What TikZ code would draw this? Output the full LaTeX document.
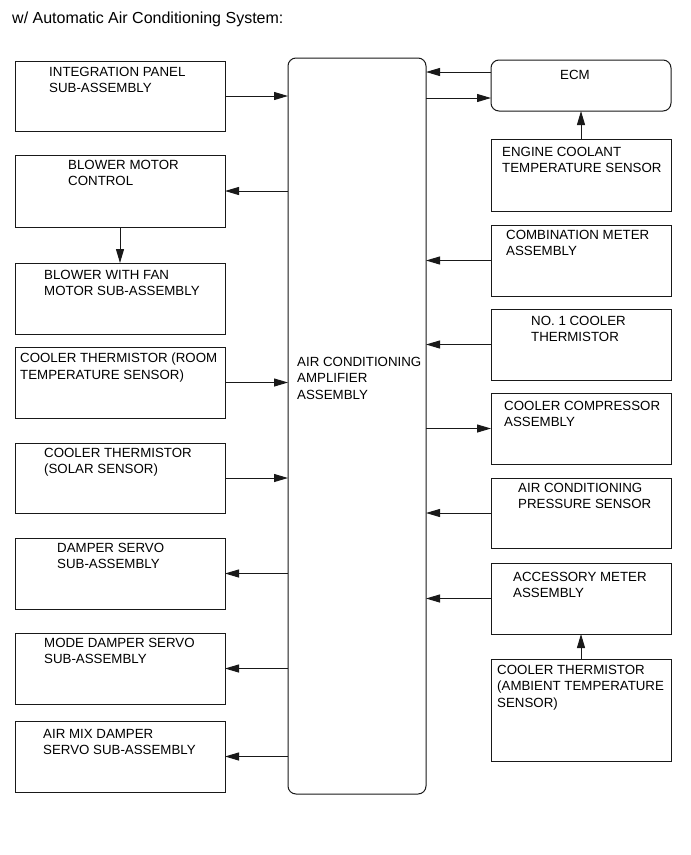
\documentclass[tikz,border=0pt]{standalone}
\usepackage{fontspec}
\setmainfont{Liberation Sans}
\usetikzlibrary{arrows.meta}
\newcommand\boxfont{\fontsize{13.3}{16.4}\selectfont}
\begin{document}
\begin{tikzpicture}[x=1pt, y=-1pt,
    box/.style={draw=black!90, line width=1pt, anchor=north west, inner sep=0, outer sep=0},
    lbox/.style={box, minimum width=210, minimum height=71},
    rbox/.style={box, minimum width=180, minimum height=71},
    txt/.style={anchor=north west, inner sep=0, align=left, font=\boxfont},
    arr/.style={draw=black!90, line width=1pt, -{Triangle[length=14pt,width=8pt]}}]
  \useasboundingbox[fill=white] (0,0) rectangle (691,855);
  \node[anchor=north west, inner sep=0, font=\fontsize{16}{18}\selectfont] (title) at (12,12) {w/ Automatic Air Conditioning System:};

  % amplifier
  \node[box, rounded corners=8pt, minimum width=138, minimum height=736] (amp) at (288,58) {};
  \node[txt] (amp-t) at ([shift={(9,299)}]amp.north west) {AIR CONDITIONING\\AMPLIFIER\\ASSEMBLY};

  % left column
  \node[lbox, minimum height=70] (panel) at (15,61) {};
  \node[txt] (panel-t) at ([shift={(34,6)}]panel.north west) {INTEGRATION PANEL\\SUB-ASSEMBLY};
  \node[lbox, minimum height=72] (bmc) at (15,155) {};
  \node[txt] (bmc-t) at ([shift={(53,5)}]bmc.north west) {BLOWER MOTOR\\CONTROL};
  \node[lbox] (blower) at (15,263) {};
  \node[txt] (blower-t) at ([shift={(29,7)}]blower.north west) {BLOWER WITH FAN\\MOTOR SUB-ASSEMBLY};
  \node[lbox] (room) at (15,347) {};
  \node[txt] (room-t) at ([shift={(5,6)}]room.north west) {COOLER THERMISTOR (ROOM\\TEMPERATURE SENSOR)};
  \node[lbox, minimum height=70] (solar) at (15,443) {};
  \node[txt] (solar-t) at ([shift={(29,5)}]solar.north west) {COOLER THERMISTOR\\(SOLAR SENSOR)};
  \node[lbox] (damper) at (15,538) {};
  \node[txt] (damper-t) at ([shift={(42,5)}]damper.north west) {DAMPER SERVO\\SUB-ASSEMBLY};
  \node[lbox] (mode) at (15,633) {};
  \node[txt] (mode-t) at ([shift={(29,5)}]mode.north west) {MODE DAMPER SERVO\\SUB-ASSEMBLY};
  \node[lbox] (airmix) at (15,721) {};
  \node[txt] (airmix-t) at ([shift={(28,8)}]airmix.north west) {AIR MIX DAMPER\\SERVO SUB-ASSEMBLY};

  % right column
  \node[box, rounded corners=8pt, minimum width=180, minimum height=51] (ecm) at (491,60) {};
  \node[txt, anchor=north] (ecm-t) at ([shift={(-6,10)}]ecm.north) {ECM};
  \node[rbox, minimum height=72] (ect) at (491,139) {};
  \node[txt] (ect-t) at ([shift={(11,8)}]ect.north west) {ENGINE COOLANT\\TEMPERATURE SENSOR};
  \node[rbox] (comb) at (491,225) {};
  \node[txt] (comb-t) at ([shift={(15,5)}]comb.north west) {COMBINATION METER\\ASSEMBLY};
  \node[rbox] (cooler) at (491,309) {};
  \node[txt] (cooler-t) at ([shift={(40,7)}]cooler.north west) {NO. 1 COOLER\\THERMISTOR};
  \node[rbox] (comp) at (491,393) {};
  \node[txt] (comp-t) at ([shift={(13,8)}]comp.north west) {COOLER COMPRESSOR\\ASSEMBLY};
  \node[rbox, minimum height=70] (press) at (491,478) {};
  \node[txt] (press-t) at ([shift={(27,5)}]press.north west) {AIR CONDITIONING\\PRESSURE SENSOR};
  \node[rbox] (acc) at (491,563) {};
  \node[txt] (acc-t) at ([shift={(22,9)}]acc.north west) {ACCESSORY METER\\ASSEMBLY};
  \node[rbox, minimum height=102] (amb) at (491,659) {};
  \node[txt] (amb-t) at ([shift={(6,6)}]amb.north west) {COOLER THERMISTOR\\(AMBIENT TEMPERATURE\\SENSOR)};

  % signals
  \draw[arr] (panel.east) -- (panel.east -| amp.west);
  \draw[arr] (bmc.east -| amp.west) -- (bmc.east);
  \draw[arr] (bmc.south) -- (blower.north);
  \draw[arr] (room.east) -- (room.east -| amp.west);
  \draw[arr] (solar.east) -- (solar.east -| amp.west);
  \draw[arr] (damper.east -| amp.west) -- (damper.east);
  \draw[arr] (mode.east -| amp.west) -- (mode.east);
  \draw[arr] (airmix.east -| amp.west) -- (airmix.east);
  \draw[arr] ([yshift=13.5pt]ecm.west) -- ([yshift=13.5pt]ecm.west -| amp.east);
  \draw[arr] ([yshift=-12.5pt]ecm.west -| amp.east) -- ([yshift=-12.5pt]ecm.west);
  \draw[arr] (ect.north) -- (ecm.south);
  \draw[arr] (comb.west) -- (comb.west -| amp.east);
  \draw[arr] (cooler.west) -- (cooler.west -| amp.east);
  \draw[arr] (comp.west -| amp.east) -- (comp.west);
  \draw[arr] (press.west) -- (press.west -| amp.east);
  \draw[arr] (acc.west) -- (acc.west -| amp.east);
  \draw[arr] (amb.north) -- (acc.south);
\end{tikzpicture}
\end{document}
